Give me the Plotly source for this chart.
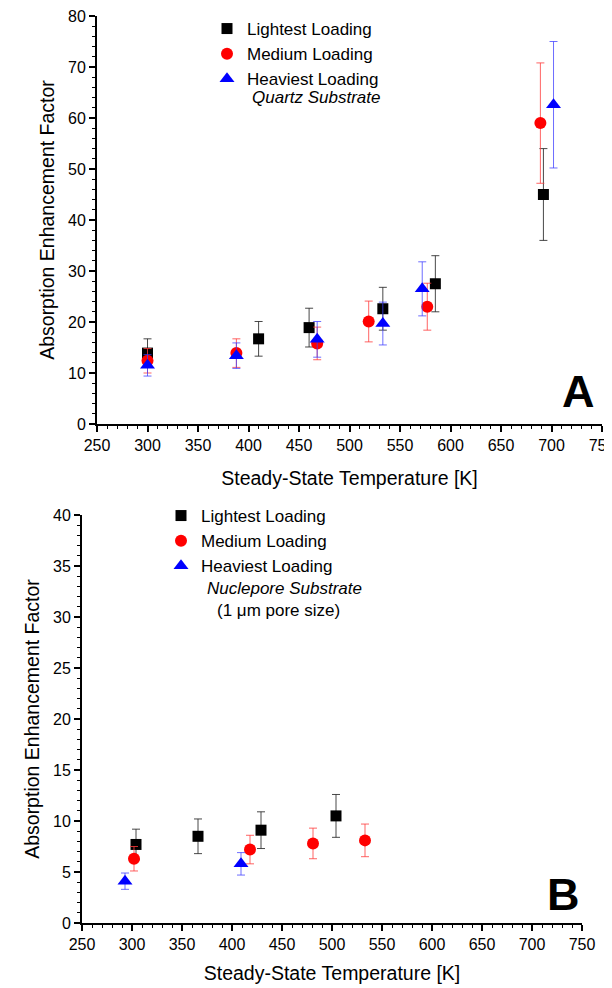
import plotly.graph_objects as go

# ---------------- Data ----------------
# Panel A: Quartz substrate
A_light_x = [300, 410, 460, 533, 585, 692]
A_light_y = [13.9, 16.7, 18.9, 22.6, 27.5, 45.0]
A_light_e = [2.8, 3.4, 3.8, 4.2, 5.5, 9.0]

A_med_x = [300, 388, 468, 519, 577, 689]
A_med_y = [12.4, 13.9, 15.8, 20.1, 23.0, 59.0]
A_med_e = [2.4, 2.8, 3.2, 4.0, 4.6, 11.8]

A_heavy_x = [300, 388, 468, 533, 572, 702]
A_heavy_y = [11.5, 13.4, 16.6, 19.7, 26.5, 62.6]
A_heavy_e = [2.1, 2.5, 3.5, 4.2, 5.3, 12.4]

# Panel B: Nuclepore substrate
B_light_x = [304, 366, 429, 504]
B_light_y = [7.7, 8.5, 9.1, 10.5]
B_light_e = [1.5, 1.7, 1.8, 2.1]

B_med_x = [302, 418, 481, 533]
B_med_y = [6.3, 7.2, 7.8, 8.1]
B_med_e = [1.2, 1.4, 1.5, 1.6]

B_heavy_x = [293, 409]
B_heavy_y = [4.1, 5.8]
B_heavy_e = [0.8, 1.1]

series_names = ["Lightest Loading", "Medium Loading", "Heaviest Loading"]
x_title = "Steady-State Temperature [K]"
y_title = "Absorption Enhancement Factor"

FONT = "Liberation Sans, Arial, sans-serif"
OFF = 8                      # page body margin
W, H = 612 - OFF, 988 - OFF  # figure size


def px_x(px):
    return (px - OFF) / W


def px_y(py):
    return 1 - (py - OFF) / H


styles = [
    dict(color="black", symbol="square", size=11, ecolor="rgba(40,40,40,0.85)"),
    dict(color="#ff0000", symbol="circle", size=12, ecolor="rgba(255,60,60,0.8)"),
    dict(color="#0000ff", symbol="triangle-up", size=13, ecolor="rgba(60,60,255,0.75)"),
]

fig = go.Figure()


def add(x, y, e, idx, xa, ya, legend):
    s = styles[idx]
    fig.add_trace(go.Scatter(
        x=x, y=y, mode="markers", name=series_names[idx],
        marker=dict(color=s["color"], symbol=s["symbol"], size=s["size"], line=dict(width=0)),
        error_y=dict(type="data", array=e, visible=True, color=s["ecolor"], thickness=1, width=4),
        xaxis=xa, yaxis=ya, legend=legend,
    ))


add(A_light_x, A_light_y, A_light_e, 0, "x", "y", "legend")
add(A_med_x, A_med_y, A_med_e, 1, "x", "y", "legend")
add(A_heavy_x, A_heavy_y, A_heavy_e, 2, "x", "y", "legend")

add(B_light_x, B_light_y, B_light_e, 0, "x2", "y2", "legend2")
add(B_med_x, B_med_y, B_med_e, 1, "x2", "y2", "legend2")
add(B_heavy_x, B_heavy_y, B_heavy_e, 2, "x2", "y2", "legend2")

axis_common = dict(
    showline=True, linecolor="black", linewidth=2, mirror=False,
    ticks="outside", ticklen=6, tickwidth=1.5, tickcolor="black",
    showgrid=False, zeroline=False,
    tickfont=dict(family=FONT, size=16, color="black"),
    ticklabeloverflow="allow",
    automargin=False,
)

title_font = dict(family=FONT, size=19.5, color="black")

fig.update_layout(
    width=W, height=H,
    margin=dict(l=0, r=0, t=0, b=0),
    paper_bgcolor="white", plot_bgcolor="white",
    xaxis=dict(domain=[px_x(97), px_x(602)], range=[250, 750], dtick=50, anchor="y",
               minor=dict(ticks="outside", ticklen=3, tickwidth=1.2, tickcolor="black", dtick=10),
               title=dict(text=x_title, font=title_font, standoff=18), **axis_common),
    yaxis=dict(domain=[px_y(424), px_y(16)], range=[0, 80], dtick=10, anchor="x",
               minor=dict(ticks="outside", ticklen=3, tickwidth=1.2, tickcolor="black", dtick=2),
               title=dict(text=y_title, font=title_font, standoff=8), **axis_common),
    xaxis2=dict(domain=[px_x(82), px_x(582)], range=[250, 750], dtick=50, anchor="y2",
                minor=dict(ticks="outside", ticklen=3, tickwidth=1.2, tickcolor="black", dtick=10),
                title=dict(text=x_title, font=title_font, standoff=14), **axis_common),
    yaxis2=dict(domain=[px_y(923), px_y(515)], range=[0, 40], dtick=5, anchor="x2",
                minor=dict(ticks="outside", ticklen=3, tickwidth=1.2, tickcolor="black", dtick=1),
                title=dict(text=y_title, font=title_font, standoff=8), **axis_common),
    legend=dict(x=px_x(207), y=px_y(11), xanchor="left", yanchor="top",
                bgcolor="rgba(0,0,0,0)", font=dict(family=FONT, size=17, color="black"),
                itemclick=False),
    legend2=dict(x=px_x(161), y=px_y(498), xanchor="left", yanchor="top",
                 bgcolor="rgba(0,0,0,0)", font=dict(family=FONT, size=17, color="black"),
                 itemclick=False),
    showlegend=True,
)

annos = [
    dict(text="<i>Quartz Substrate</i>", x=px_x(250), y=px_y(98), xanchor="left", yanchor="middle",
         font=dict(family=FONT, size=17, color="black")),
    dict(text="<i>Nuclepore Substrate</i>", x=px_x(205), y=px_y(588), xanchor="left", yanchor="middle",
         font=dict(family=FONT, size=17, color="black")),
    dict(text="(1 μm pore size)", x=px_x(215), y=px_y(610), xanchor="left", yanchor="middle",
         font=dict(family=FONT, size=17, color="black")),
    dict(text="<b>A</b>", x=px_x(578), y=px_y(391), xanchor="center", yanchor="middle",
         font=dict(family=FONT, size=45, color="black")),
    dict(text="<b>B</b>", x=px_x(563), y=px_y(894), xanchor="center", yanchor="middle",
         font=dict(family=FONT, size=45, color="black")),
]
for a in annos:
    fig.add_annotation(xref="paper", yref="paper", showarrow=False, **a)

fig.write_html("out.html")
